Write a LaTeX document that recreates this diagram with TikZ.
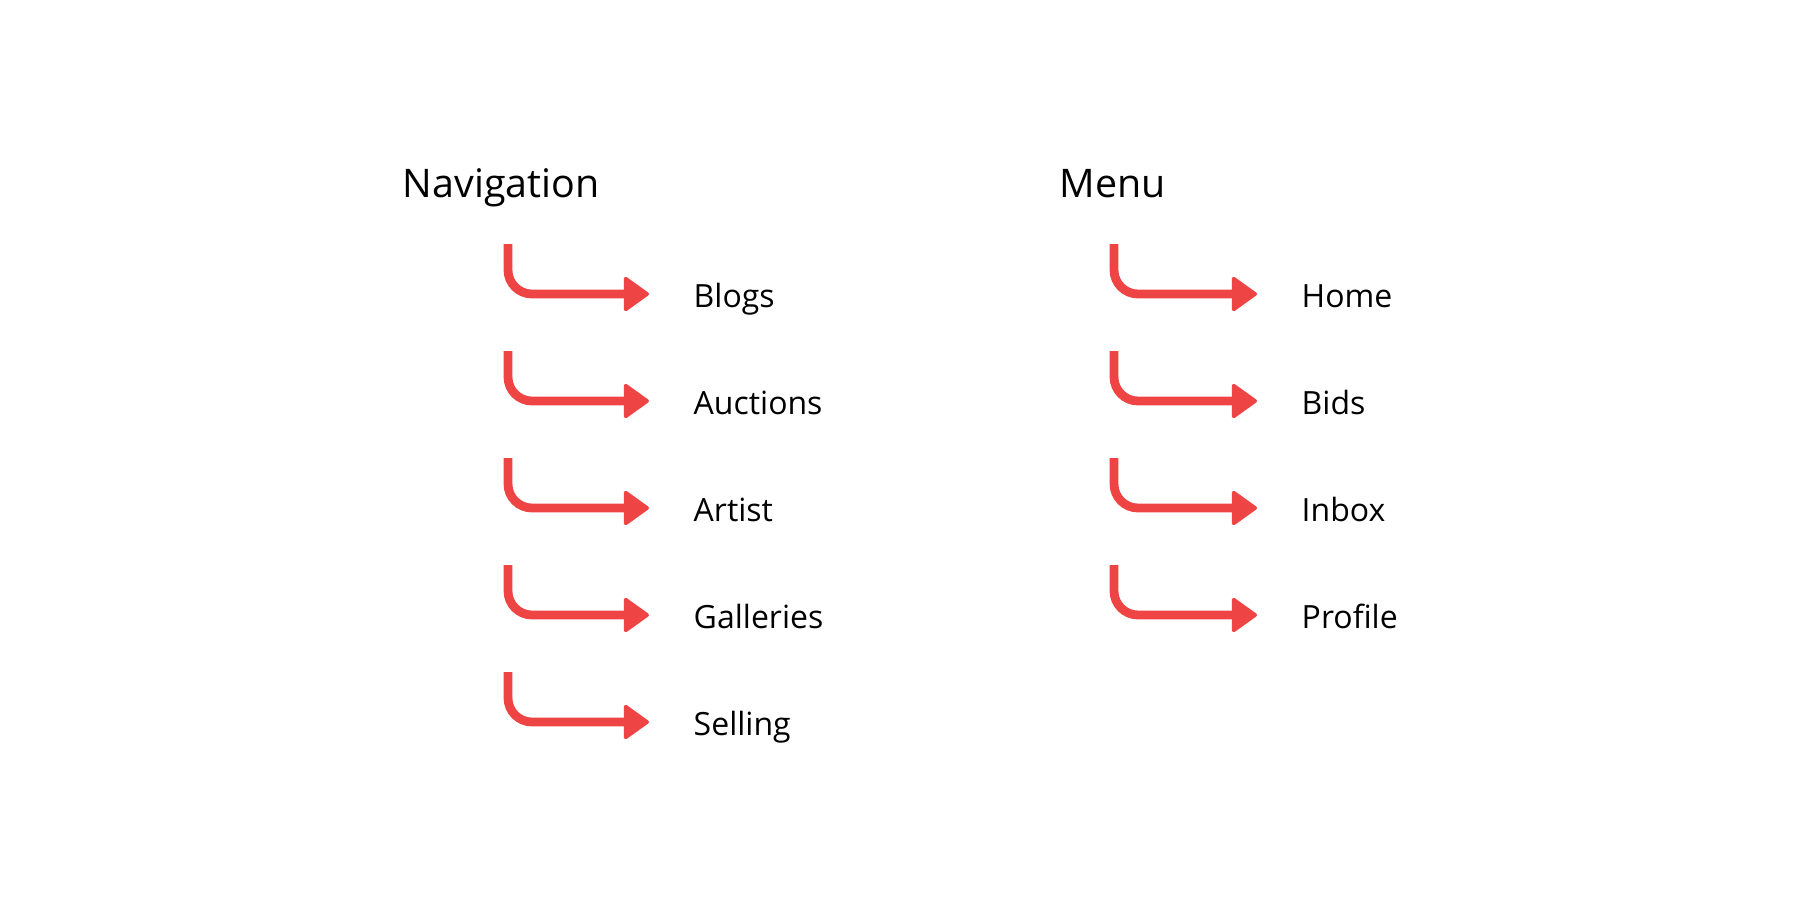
\documentclass[tikz,border=0pt]{standalone}
\usepackage{fontspec}
\setmainfont{Open Sans}
\usetikzlibrary{arrows.meta}
\definecolor{arrowred}{HTML}{EF4444}

\begin{document}
\begin{tikzpicture}[x=0.01cm,y=-0.01cm,
  head/.style={anchor=base west,inner sep=0pt,font=\fontsize{11.2}{13}\selectfont},
  item/.style={anchor=west,inner xsep=0.44cm,inner ysep=0pt,text height=0.33cm,text depth=0.07cm,font=\fontsize{9.1}{11}\selectfont},
  bendarrow/.style={arrowred,line width=2.5pt,rounded corners=0.24cm,-{Triangle[length=7.5pt,width=10.5pt,round,line width=1pt]}}]
\useasboundingbox (0,0) rectangle (1800,900);
\node[head] (nav) at (402,197) {Navigation};
\node[head] (menu) at (1059,197) {Menu};
% left column
\foreach \t [count=\i] in {Blogs,Auctions,Artist,Galleries,Selling}{
  \node[item] (nav\i) at (649,187+107*\i) {\t};
  \coordinate (navs\i) at (508,137+107*\i);
  \draw[bendarrow] (navs\i) |- (nav\i.west);
}
% right column
\foreach \t [count=\i] in {Home,Bids,Inbox,Profile}{
  \node[item] (menu\i) at (1257,187+107*\i) {\t};
  \coordinate (menus\i) at (1114,137+107*\i);
  \draw[bendarrow] (menus\i) |- (menu\i.west);
}
\end{tikzpicture}
\end{document}
